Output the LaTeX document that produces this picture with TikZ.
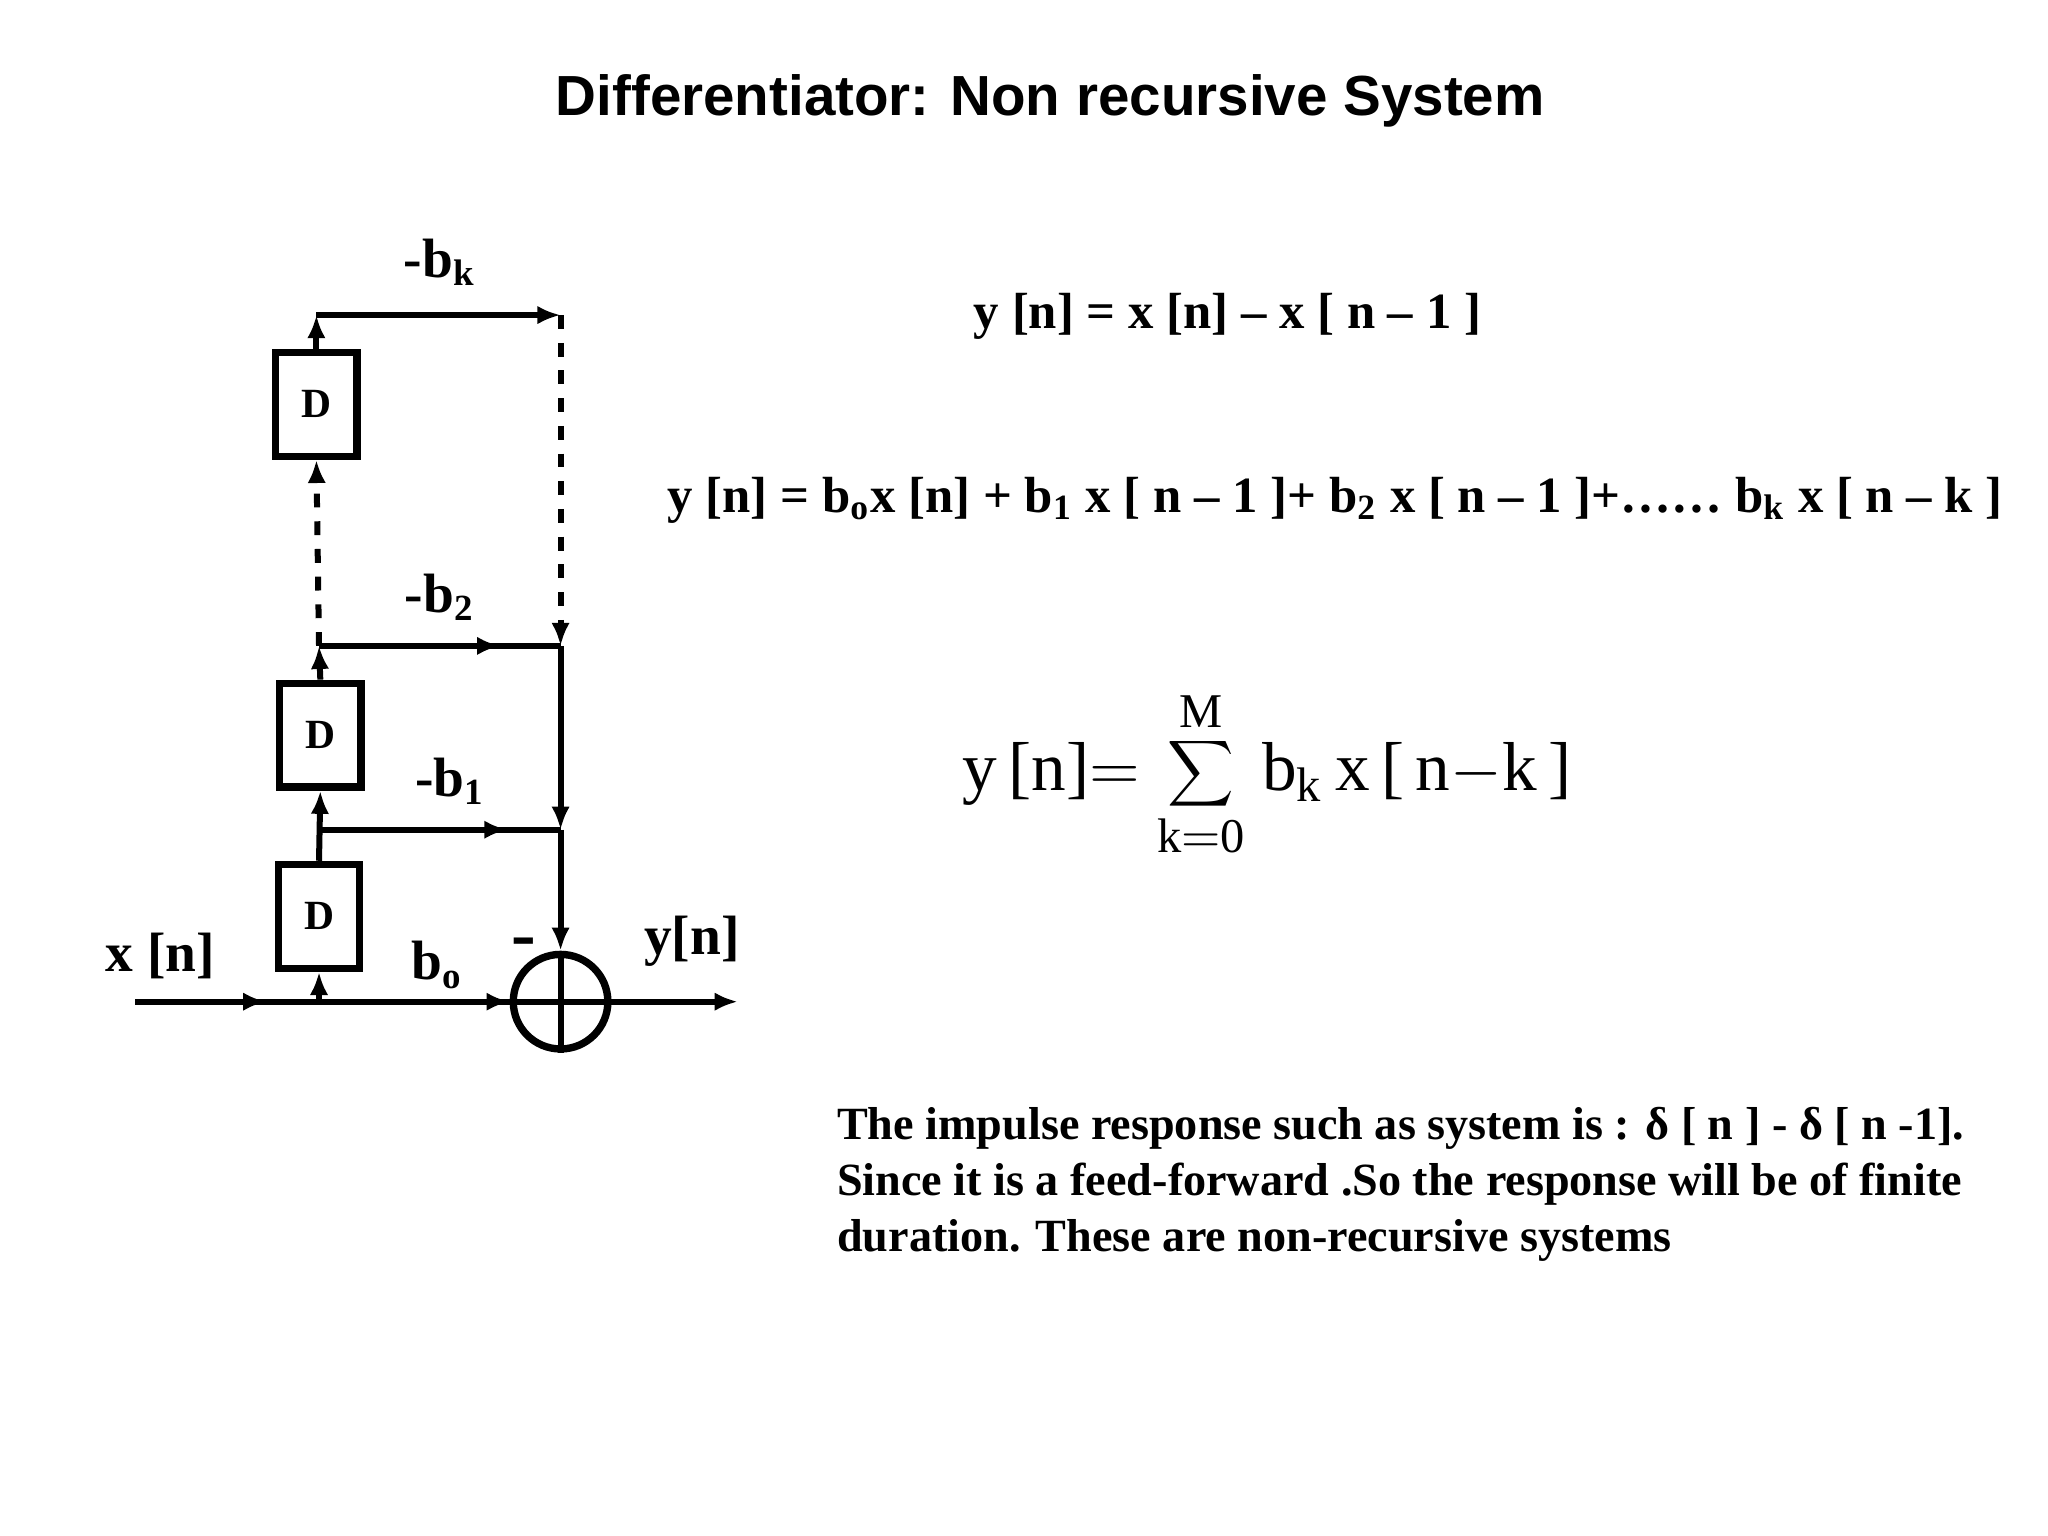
\documentclass[tikz,border=0pt]{standalone}
\usepackage{fontspec}
\setmainfont{Liberation Serif}
\newfontfamily\titlefont{Liberation Sans}
\usetikzlibrary{arrows.meta,decorations.markings}
\begin{document}
\begin{tikzpicture}[x=0.01cm,y=-0.01cm,
  ln/.style={line width=1.3pt},
  tip/.style={-{Latex[length=5pt,width=4pt]}},
  dbox/.style={draw,line width=1.6pt,minimum width=0.62cm,minimum height=0.79cm,inner sep=0pt,font=\bfseries\fontsize{9}{10}\selectfont},
  lab/.style={font=\bfseries\fontsize{12}{14}\selectfont,inner sep=0pt},
  eq/.style={font=\bfseries\fontsize{11}{12}\selectfont,inner sep=0pt},
  midarrow/.style={postaction={decorate},decoration={markings,mark=at position #1 with {\arrow{Latex[length=5pt,width=4pt]}}}}]
\useasboundingbox (0,0) rectangle (1560,1170);
\node[font=\titlefont\bfseries\fontsize{12.25}{14}\selectfont] (title) at (800,77) {Differentiator: Non recursive System};
% boxes
\node[dbox] (d1) at (241,308) {D};
\node[dbox] (d2) at (244,560) {D};
\node[dbox] (d3) at (243,698) {D};
\node[draw,circle,line width=1.6pt,minimum size=0.72cm,inner sep=0pt] (sum) at (427,763) {};
\draw[line width=1.3pt] (sum.north) -- (sum.south) (sum.west) -- (sum.east);
% coordinates
\coordinate (in) at (103,763);
\coordinate (j0) at (243,763);
\coordinate (j1) at (243,632);
\coordinate (j2) at (243,492);
\coordinate (jk) at (241,240);
\coordinate (r1) at (427,632);
\coordinate (r2) at (427,492);
\coordinate (rk) at (427,240);
\coordinate (out) at (562,763);
% input
\draw[ln,midarrow=0.35] (in) -- (sum.west);
\draw[ln,tip] (sum.west) ++(-2,0) -- (sum.west);
\draw[ln,tip] (sum.east) -- (out);
% vertical chain
\draw[ln,tip] (j0) -- (d3.south);
\draw[ln,tip] (d3.north) -- (d2.south);
\draw[ln,tip] (d2.north) -- (j2);
\draw[ln,dashed,tip] (j2) -- (d1.south);
\draw[ln,tip] (d1.north) -- (jk);
% taps
\draw[ln,tip] (jk) -- (rk);
\draw[ln,dashed,tip] (rk) -- (r2);
\draw[ln,midarrow=0.75] (j2) -- (r2);
\draw[ln,midarrow=0.78] (j1) -- (r1);
\draw[ln,tip] (r2) -- (r1);
\draw[ln,tip] (r1) -- (sum.north);
% labels
\node[lab] (lk) at (335,200) {-b\textsubscript{k}};
\node[lab] (l2) at (335,455) {-b\textsubscript{2}};
\node[lab] (l1) at (343,595) {-b\textsubscript{1}};
\node[lab] (l0) at (333,735) {b\textsubscript{o}};
\node[lab,font=\bfseries\fontsize{16}{16}\selectfont] (minus) at (399,722) {-};
\node[lab] (xn) at (122,728) {x [n]};
\node[lab] (yn) at (527,717) {y[n]};
% equations
\node[eq] (e1) at (935,241) {y [n] = x [n] -- x [ n -- 1 ]};
\node[eq] (e2) at (1017,381) {y [n] = b\textsubscript{o}x [n] + b\textsubscript{1} x [ n -- 1 ]+ b\textsubscript{2} x [ n -- 1 ]+\dots\dots{} b\textsubscript{k} x [ n -- k ]};
\node[inner sep=0pt,font=\fontsize{15}{17}\selectfont] (e3) at (965,590) {y\,[n]$=$\ $\displaystyle\sum_{\mathrm{k=0}}^{\mathrm{M}}$\ b\textsubscript{k}\,x\,[\,n$-$k\,]};
\node[anchor=north west,inner sep=0pt,align=left,font=\bfseries\fontsize{10}{12.1}\selectfont] (para) at (637,843) {The impulse response such as system is : δ [ n ] - δ [ n -1].\\ Since it is a feed-forward .So the response will be of finite\\ duration. These are non-recursive systems};
\end{tikzpicture}
\end{document}
